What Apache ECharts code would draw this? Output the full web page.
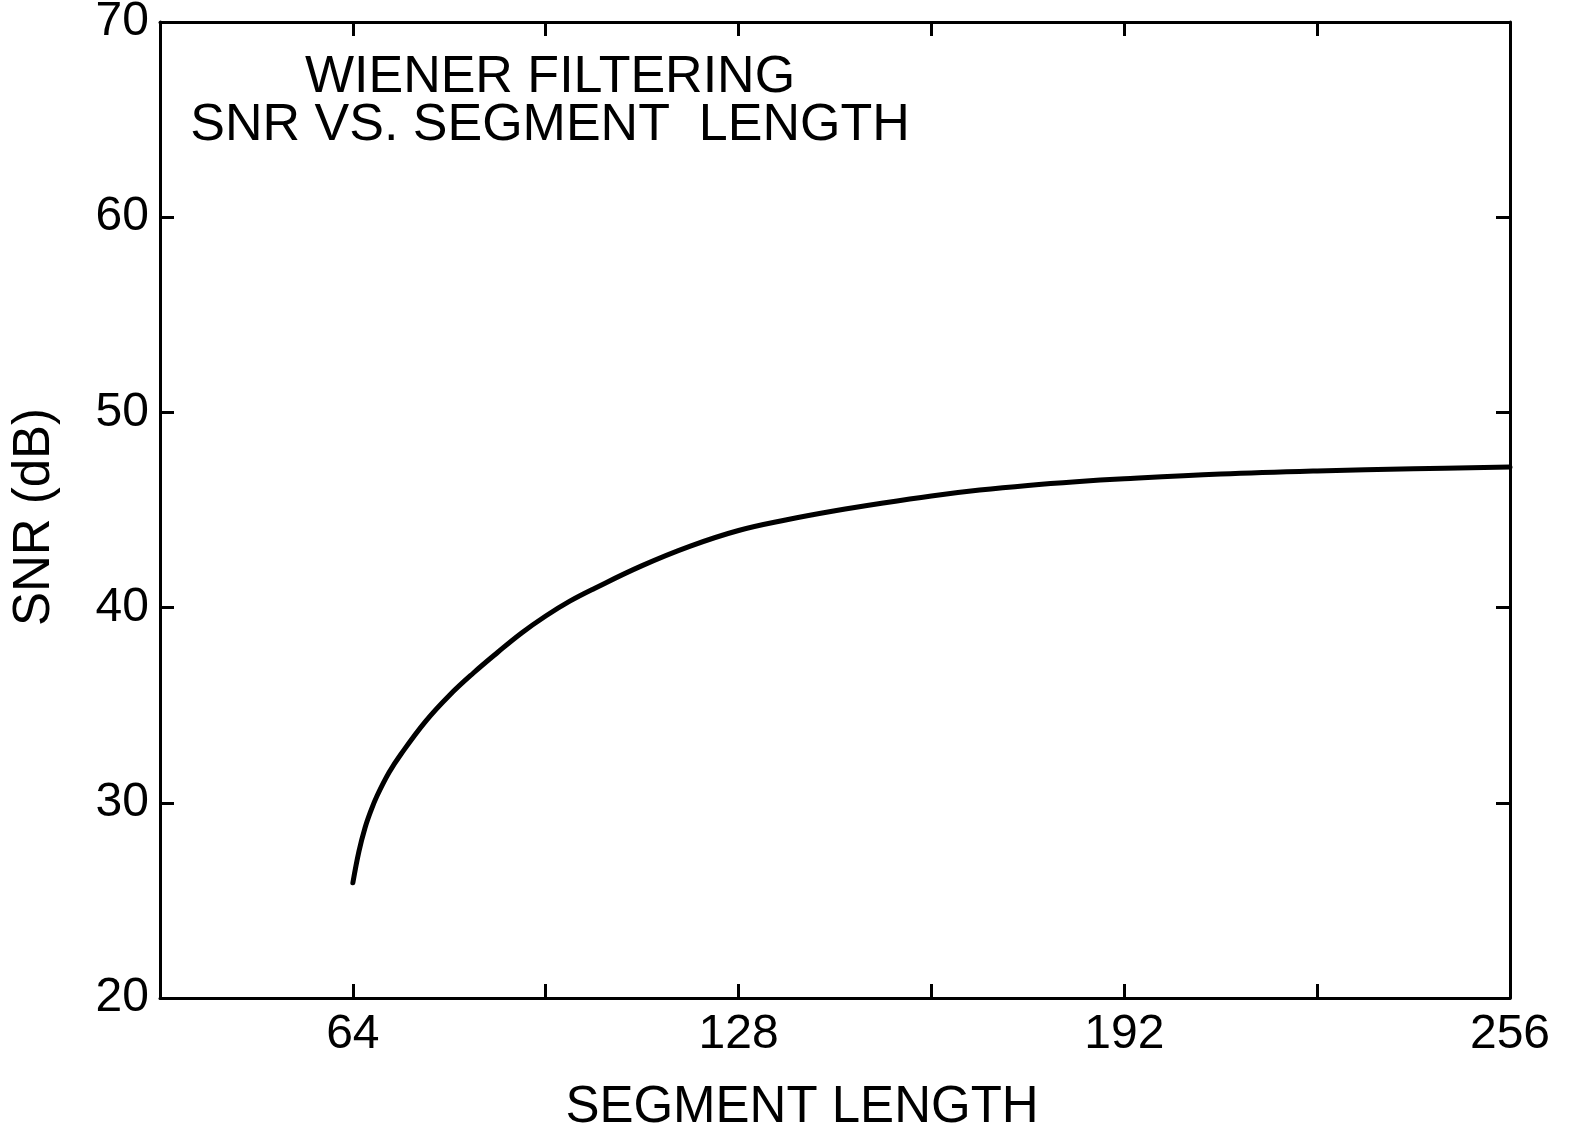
<!DOCTYPE html>
<html>
<head>
<meta charset="utf-8">
<script src="https://cdn.jsdelivr.net/npm/echarts@6/dist/echarts.min.js"></script>
<style>
  html, body { margin: 0; padding: 0; background: #fff; }
  #chart { width: 1572px; height: 1128px; }
</style>
</head>
<body>
<div id="chart"></div>
<script>
// Data
const segmentLength = [64, 65, 66, 67, 68, 70, 72, 76, 80, 84, 88, 92, 96, 100, 104, 112, 120, 128, 136, 144, 152, 160, 168, 176, 184, 192, 208, 224, 240, 256];
const snrDb =         [25.9, 27.5, 28.7, 29.6, 30.35, 31.55, 32.5, 34.15, 35.5, 36.65, 37.7, 38.7, 39.57, 40.33, 40.97, 42.15, 43.15, 43.95, 44.5, 44.96, 45.36, 45.72, 46.02, 46.26, 46.45, 46.6, 46.84, 47.0, 47.11, 47.2];
const xTickLabels = [64, 128, 192, 256];
const titleLines = ['WIENER FILTERING', 'SNR VS. SEGMENT  LENGTH'];
const xAxisName = 'SEGMENT LENGTH';
const yAxisName = 'SNR (dB)';

const FONT = '"Liberation Sans", Arial, Helvetica, sans-serif';
const seriesData = segmentLength.map((x, i) => [x, snrDb[i]]);

const chart = echarts.init(document.getElementById('chart'), null, { renderer: 'canvas' });

const axisLine = { show: true, lineStyle: { color: '#000', width: 3 } };
const axisTick = { show: true, inside: true, length: 14, lineStyle: { color: '#000', width: 3 } };

chart.setOption({
  backgroundColor: '#fff',
  animation: false,
  title: {
    text: titleLines.join('\n'),
    left: 550,
    top: 54,
    textAlign: 'center',
    padding: 0,
    textStyle: { fontFamily: FONT, fontSize: 52, fontWeight: 'normal', color: '#000', lineHeight: 48 }
  },
  grid: { left: 160, right: 62, top: 22, bottom: 130, containLabel: false, outerBoundsMode: 'none' },
  xAxis: [
    {
      type: 'value', min: 32, max: 256, interval: 32, position: 'bottom',
      name: xAxisName, nameLocation: 'middle', nameGap: 84,
      nameTextStyle: { fontFamily: FONT, fontSize: 51, color: '#000', padding: [0, 66, 0, 0] },
      axisLine, axisTick,
      splitLine: { show: false },
      axisLabel: {
        show: true, showMinLabel: true, showMaxLabel: true, margin: 13,
        fontFamily: FONT, fontSize: 48, color: '#000',
        formatter: v => (xTickLabels.indexOf(v) >= 0 ? String(v) : '')
      }
    },
    {
      type: 'value', min: 32, max: 256, interval: 32, position: 'top',
      axisLine, axisTick, splitLine: { show: false }, axisLabel: { show: false }
    }
  ],
  yAxis: [
    {
      type: 'value', min: 20, max: 70, interval: 10, position: 'left',
      name: yAxisName, nameLocation: 'middle', nameGap: 100, nameRotate: 90,
      nameTextStyle: { fontFamily: FONT, fontSize: 51, color: '#000', padding: [0, 14, 0, 0] },
      axisLine, axisTick, splitLine: { show: false },
      axisLabel: {
        show: true, showMinLabel: true, showMaxLabel: true, margin: 11,
        fontFamily: FONT, fontSize: 48, color: '#000'
      }
    },
    {
      type: 'value', min: 20, max: 70, interval: 10, position: 'right',
      axisLine, axisTick, splitLine: { show: false }, axisLabel: { show: false }
    }
  ],
  series: [
    {
      type: 'line',
      xAxisIndex: 0, yAxisIndex: 0,
      data: seriesData,
      smooth: 0.4,
      showSymbol: false,
      symbol: 'none',
      lineStyle: { color: '#000', width: 5, cap: 'round' }
    }
  ]
});
</script>
</body>
</html>
